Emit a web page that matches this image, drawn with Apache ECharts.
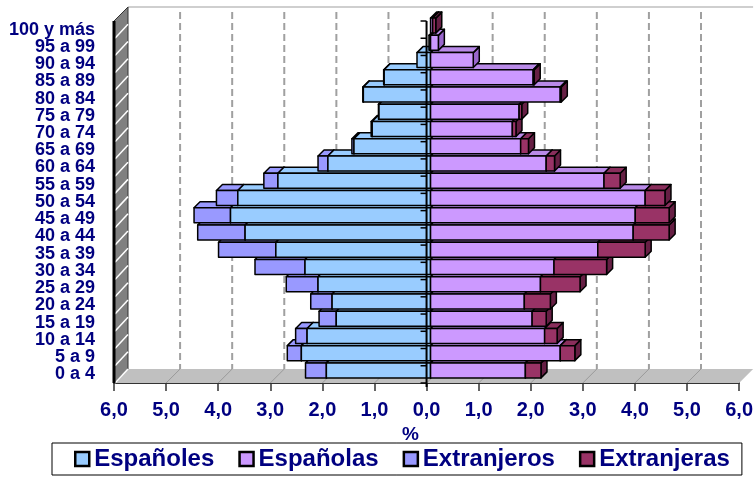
<!DOCTYPE html>
<html>
<head>
<meta charset="utf-8">
<script src="https://cdn.jsdelivr.net/npm/echarts@6/dist/echarts.min.js"></script>
<style>
  html, body { margin: 0; background: #fff; }
  #chart { width: 756px; height: 477px; }
</style>
</head>
<body>
<div id="chart"></div>
<script>
// grupos de edad, de abajo arriba
const ageGroups = ['0 a 4', '5 a 9', '10 a 14', '15 a 19', '20 a 24', '25 a 29', '30 a 34',
  '35 a 39', '40 a 44', '45 a 49', '50 a 54', '55 a 59', '60 a 64', '65 a 69', '70 a 74',
  '75 a 79', '80 a 84', '85 a 89', '90 a 94', '95 a 99', '100 y más'];

// % sobre el total de población
const espanoles   = [2.00, 2.48, 2.37, 1.81, 1.89, 2.16, 2.41, 2.97, 3.56, 3.84, 3.70, 2.93, 1.97, 1.47, 1.12, 0.99, 1.29, 0.89, 0.26, 0.03, 0];
const extranjeros = [0.40, 0.27, 0.22, 0.33, 0.41, 0.61, 0.96, 1.10, 0.91, 0.70, 0.41, 0.27, 0.19, 0.04, 0.02, 0.01, 0.01, 0.01, 0, 0, 0];
const espanolas   = [1.82, 2.49, 2.19, 1.95, 1.80, 2.11, 2.37, 3.21, 3.89, 3.93, 4.12, 3.33, 2.22, 1.73, 1.57, 1.70, 2.49, 1.97, 0.82, 0.15, 0.04];
const extranjeras = [0.30, 0.28, 0.24, 0.27, 0.50, 0.76, 1.01, 0.91, 0.69, 0.65, 0.38, 0.31, 0.16, 0.15, 0.07, 0.05, 0.02, 0.02, 0, 0, 0.06];

const gridTicks = [-5, -4, -3, -2, -1, 0, 1, 2, 3, 4, 5];

const FONT = '"Liberation Sans", Arial, sans-serif';
const NAVY = '#000080';
const WALL = 14;      // fondo de la caja 3D
const BAR_DEPTH = 6;  // fondo de cada barra
const BAR_SHIFT = 4;

// [desde, hasta, fila]
function menRows(inner, outer) {
  return {
    inner: inner.map((v, i) => [0, -v, i]),
    outer: outer.map((v, i) => [-inner[i], -(inner[i] + v), i])
  };
}
function womenRows(inner, outer) {
  return {
    inner: inner.map((v, i) => [0, v, i]),
    outer: outer.map((v, i) => [inner[i], inner[i] + v, i])
  };
}
const men = menRows(espanoles, extranjeros);
const women = womenRows(espanolas, extranjeras);

// barra con cara frontal, superior y lateral
function boxItem(faces, order) {
  return function (params, api) {
    const from = api.value(0), to = api.value(1), row = api.value(2);
    if (Math.abs(to - from) < 1e-6) return null;
    const a = api.coord([from, row]), b = api.coord([to, row]);
    const h = api.size([0, 1])[1] * 0.87;
    const xl = Math.min(a[0], b[0]) + BAR_SHIFT, xr = Math.max(a[0], b[0]) + BAR_SHIFT;
    const yt = a[1] - h / 2 - BAR_SHIFT, yb = yt + h, d = BAR_DEPTH;
    const z2 = row * 10 + order;
    const edge = { stroke: '#000', lineWidth: 1.5, lineJoin: 'round' };
    return {
      type: 'group',
      children: [
        { type: 'polygon', z2: z2, shape: { points: [[xr, yt], [xr + d, yt - d], [xr + d, yb - d], [xr, yb]] },
          style: Object.assign({ fill: faces[2] }, edge) },
        { type: 'polygon', z2: z2, shape: { points: [[xl, yt], [xr, yt], [xr + d, yt - d], [xl + d, yt - d]] },
          style: Object.assign({ fill: faces[1] }, edge) },
        { type: 'rect', z2: z2, shape: { x: xl, y: yt, width: xr - xl, height: h },
          style: Object.assign({ fill: faces[0] }, edge) }
      ]
    };
  };
}

// paredes, suelo y rejilla del fondo
function renderFrame(params, api) {
  const cs = params.coordSys;
  const x0 = cs.x, x1 = cs.x + cs.width, y0 = cs.y, y1 = cs.y + cs.height, D = WALL;
  const children = [];
  children.push({ type: 'line', shape: { x1: x0 + D, y1: y0 - D, x2: x1 + D, y2: y0 - D },
    style: { stroke: '#cfcfcf', lineWidth: 2 } });
  children.push({ type: 'polygon', shape: { points: [[x0, y1], [x1, y1], [x1 + D, y1 - D], [x0 + D, y1 - D]] },
    style: { fill: '#c0c0c0' } });
  gridTicks.forEach(v => {
    const x = api.coord([v, 0])[0];
    children.push({ type: 'line', shape: { x1: x + D, y1: y0 - D + 5, x2: x + D, y2: y1 - D },
      style: { stroke: '#a0a0a0', lineWidth: 2, lineDash: [7, 4] } });
    children.push({ type: 'line', shape: { x1: x, y1: y1, x2: x + D, y2: y1 - D },
      style: { stroke: '#9a9a9a', lineWidth: 1 } });
  });
  children.push({ type: 'polygon', shape: { points: [[x0, y0], [x0 + D, y0 - D], [x0 + D, y1 - D], [x0, y1]] },
    style: { fill: '#808080', stroke: '#333', lineWidth: 1 } });
  const band = api.size([0, 1])[1];
  for (let i = 0; i < ageGroups.length; i++) {
    const yb = api.coord([0, i])[1] + band / 2;
    children.push({ type: 'line', shape: { x1: x0 + 1, y1: yb, x2: x0 + D, y2: yb - D },
      style: { stroke: '#fff', lineWidth: 1.5 } });
  }
  children.push({ type: 'line', shape: { x1: x0, y1: y0, x2: x0, y2: y1 },
    style: { stroke: '#000', lineWidth: 3 } });
  return { type: 'group', children: children };
}

// eje vertical en el cero
function renderZeroAxis(params, api) {
  const cs = params.coordSys;
  const x = api.coord([0, 0])[0];
  const band = api.size([0, 1])[1];
  const children = [{ type: 'line', shape: { x1: x, y1: cs.y, x2: x, y2: cs.y + cs.height + 4 },
    style: { stroke: '#000', lineWidth: 2 } }];
  for (let i = 0; i <= ageGroups.length; i++) {
    const yb = cs.y + cs.height - i * band;
    children.push({ type: 'line', shape: { x1: x - 6, y1: yb, x2: x, y2: yb },
      style: { stroke: '#000', lineWidth: 1.5 } });
  }
  return { type: 'group', children: children };
}

function barSeries(name, data, faces, order) {
  return {
    name: name,
    type: 'custom',
    data: data,
    encode: { x: [0, 1], y: 2 },
    clip: false,
    z: 2,
    itemStyle: { color: faces[0] },
    renderItem: boxItem(faces, order)
  };
}

const chart = echarts.init(document.getElementById('chart'));
chart.setOption({
  backgroundColor: '#fff',
  animation: false,
  grid: { left: 114, right: 13, top: 21, bottom: 94 },
  xAxis: {
    type: 'value',
    min: -6, max: 6, interval: 1,
    name: '%',
    nameLocation: 'middle',
    nameGap: 40,
    nameTextStyle: { color: NAVY, fontFamily: FONT, fontWeight: 'bold', fontSize: 19, padding: [0, 32, 0, 0] },
    axisLine: { show: true, lineStyle: { color: '#333', width: 2 } },
    axisTick: { show: true, length: 8, lineStyle: { color: '#333', width: 1.5 } },
    splitLine: { show: false },
    axisLabel: {
      margin: 17,
      color: NAVY, fontFamily: FONT, fontWeight: 'bold', fontSize: 20,
      formatter: v => Math.abs(v).toFixed(1).replace('.', ',')
    }
  },
  yAxis: {
    type: 'category',
    data: ageGroups,
    axisLine: { show: false },
    axisTick: { show: false },
    axisLabel: { interval: 0, margin: 19, color: NAVY, fontFamily: FONT, fontWeight: 'bold', fontSize: 18 }
  },
  legend: {
    data: ['Españoles', 'Españolas', 'Extranjeros', 'Extranjeras'],
    left: 52, top: 443,
    padding: [4, 12, 4, 22],
    itemGap: 24,
    itemWidth: 14, itemHeight: 14,
    icon: 'rect',
    borderColor: '#000', borderWidth: 1,
    itemStyle: { borderColor: '#000', borderWidth: 2.5 },
    textStyle: { color: NAVY, fontFamily: FONT, fontWeight: 'bold', fontSize: 24 }
  },
  series: [
    { type: 'custom', silent: true, z: 1, data: [[0, 0]], encode: { x: 0, y: 1 }, clip: false, renderItem: renderFrame },
    barSeries('Extranjeros', men.outer, ['#9999FF', '#9999FF', '#6666CC'], 0),
    barSeries('Españoles', men.inner, ['#99CCFF', '#99CCFF', '#6699CC'], 1),
    barSeries('Españolas', women.inner, ['#CC99FF', '#B98AE8', '#9966CC'], 2),
    barSeries('Extranjeras', women.outer, ['#993366', '#8A2E5C', '#661F44'], 3),
    { type: 'custom', silent: true, z: 3, data: [[0, 0]], encode: { x: 0, y: 1 }, clip: false, renderItem: renderZeroAxis }
  ]
});
window.addEventListener('resize', () => chart.resize());
</script>
</body>
</html>
